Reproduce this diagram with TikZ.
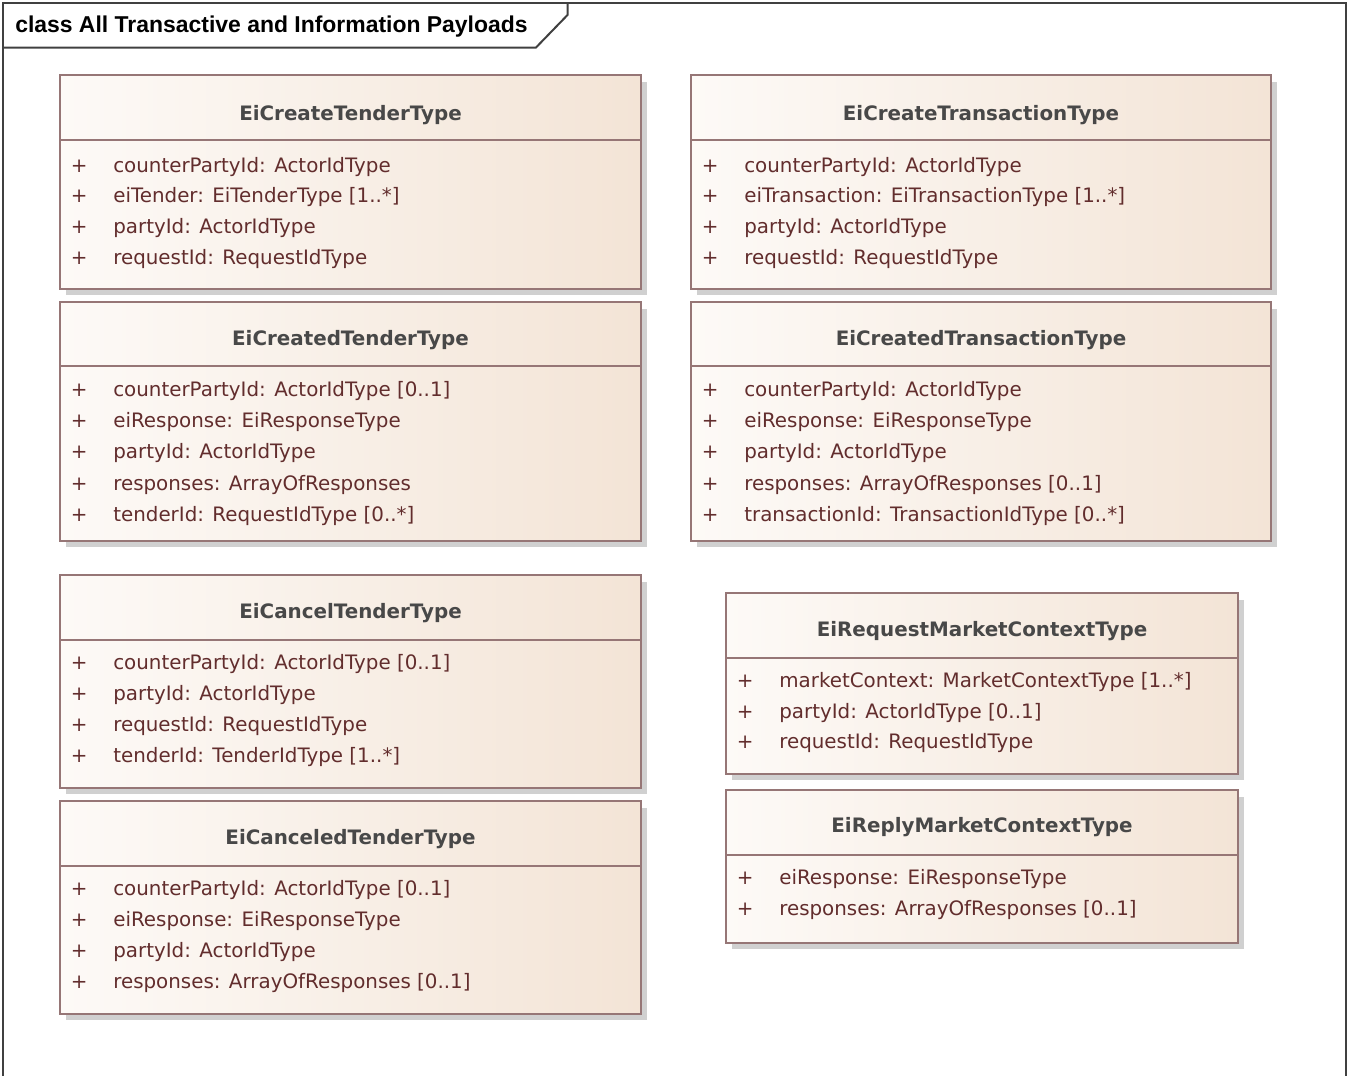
\documentclass[tikz,border=0pt]{standalone}
\usepackage{fontspec}
\newfontfamily\umlfont{DejaVu Sans}
\newfontfamily\framefont{Liberation Sans}
\definecolor{umlborder}{RGB}{150,118,118}
\definecolor{umlleft}{RGB}{253,250,247}
\definecolor{umlright}{RGB}{243,228,214}
\definecolor{umlshade}{RGB}{208,208,208}
\definecolor{umltitle}{RGB}{72,72,72}
\definecolor{umlattr}{RGB}{98,45,45}
\definecolor{framegray}{RGB}{64,64,64}

\begin{document}
\begin{tikzpicture}[x=0.75pt,y=-0.75pt]
\tikzset{classfill/.style={left color=umlleft, right color=umlright},
  classpen/.style={draw=umlborder, line width=1.2pt},
  classshadow/.style={fill=umlshade},
  framepen/.style={draw=framegray, line width=1.5pt},
  classname/.style={anchor=base, inner sep=0pt, text=umltitle, font=\umlfont\bfseries\fontsize{14.9}{18}\selectfont},
  attr/.style={anchor=base west, inner sep=0pt, text=umlattr, font=\umlfont\fontsize{14.9}{18}\selectfont,
    execute at begin node={\makebox[31.9pt][l]{+}}}}
\useasboundingbox (0,0) rectangle (1351,1075);
\clip (0,0) rectangle (1351,1075);
% frame and its tab
\draw[framepen] (2.5,1085) -- (2.5,2.5) -- (1345.5,2.5) -- (1345.5,1085);
\draw[framepen] (2.5,47.5) -- (536,47.5) -- (567.5,15) -- (567.5,2.5);
\node[anchor=base west, inner sep=0pt, font=\framefont\bfseries\fontsize{17.2}{20}\selectfont] (frametitle) at (15,32.5) {class All Transactive and Information Payloads};
% class boxes
\foreach \l/\t/\s/\r/\b in {60/75/140/641/289, 691/75/140/1271/289, 60/302/366/641/541, 691/302/366/1271/541,
  60/575/640/641/788, 60/801/866/641/1014, 726/593/658/1238/774, 726/790/855/1238/943}
{
  \fill[classshadow] (\l+6,\t+7) rectangle (\r+6,\b+6);
  \shade[classfill] (\l,\t) rectangle (\r,\b);
  \draw[classpen] (\l,\t) rectangle (\r,\b);
  \draw[classpen] (\l,\s) -- (\r,\s);
}
% EiCreateTenderType
\node[classname] (cten) at (350.5,120) {EiCreateTenderType};
\foreach \a [count=\i] in {counterPartyId: ActorIdType, eiTender: EiTenderType [1..*], partyId: ActorIdType, requestId: RequestIdType}
  \node[attr] (cten-\i) at (70.5,{172+30.8*(\i-1)}) {\a};
% EiCreateTransactionType
\node[classname] (ctr) at (981,120) {EiCreateTransactionType};
\foreach \a [count=\i] in {counterPartyId: ActorIdType, eiTransaction: EiTransactionType [1..*], partyId: ActorIdType, requestId: RequestIdType}
  \node[attr] (ctr-\i) at (701.5,{172+30.8*(\i-1)}) {\a};
% EiCreatedTenderType
\node[classname] (cdten) at (350.5,345) {EiCreatedTenderType};
\foreach \a [count=\i] in {counterPartyId: ActorIdType [0..1], eiResponse: EiResponseType, partyId: ActorIdType, responses: ArrayOfResponses, tenderId: RequestIdType [0..*]}
  \node[attr] (cdten-\i) at (70.5,{396.5+31.2*(\i-1)}) {\a};
% EiCreatedTransactionType
\node[classname] (cdtr) at (981,345) {EiCreatedTransactionType};
\foreach \a [count=\i] in {counterPartyId: ActorIdType, eiResponse: EiResponseType, partyId: ActorIdType, responses: ArrayOfResponses [0..1], transactionId: TransactionIdType [0..*]}
  \node[attr] (cdtr-\i) at (701.5,{396.5+31.2*(\i-1)}) {\a};
% EiCancelTenderType
\node[classname] (cnten) at (350.5,618) {EiCancelTenderType};
\foreach \a [count=\i] in {counterPartyId: ActorIdType [0..1], partyId: ActorIdType, requestId: RequestIdType, tenderId: TenderIdType [1..*]}
  \node[attr] (cnten-\i) at (70.5,{669.5+31*(\i-1)}) {\a};
% EiCanceledTenderType
\node[classname] (cdnten) at (350.5,844) {EiCanceledTenderType};
\foreach \a [count=\i] in {counterPartyId: ActorIdType [0..1], eiResponse: EiResponseType, partyId: ActorIdType, responses: ArrayOfResponses [0..1]}
  \node[attr] (cdnten-\i) at (70.5,{895.5+31*(\i-1)}) {\a};
% EiRequestMarketContextType
\node[classname] (rqmc) at (982,636) {EiRequestMarketContextType};
\foreach \a [count=\i] in {marketContext: MarketContextType [1..*], partyId: ActorIdType [0..1], requestId: RequestIdType}
  \node[attr] (rqmc-\i) at (736.5,{687.5+30.5*(\i-1)}) {\a};
% EiReplyMarketContextType
\node[classname] (rpmc) at (982,832) {EiReplyMarketContextType};
\foreach \a [count=\i] in {eiResponse: EiResponseType, responses: ArrayOfResponses [0..1]}
  \node[attr] (rpmc-\i) at (736.5,{884.5+31*(\i-1)}) {\a};
\end{tikzpicture}
\end{document}
